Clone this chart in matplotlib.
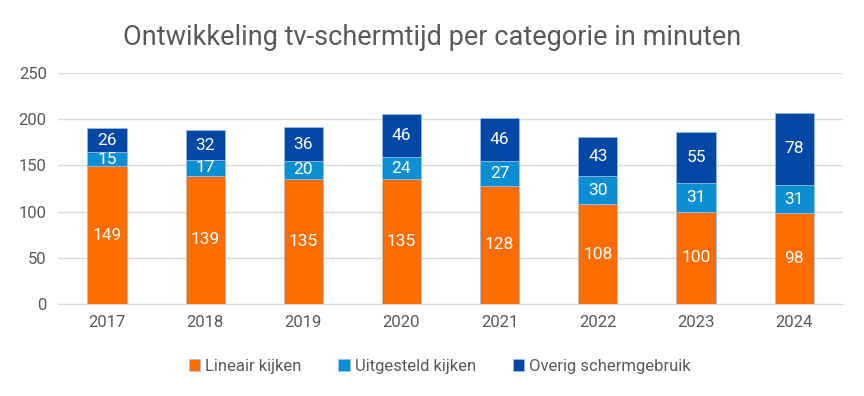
import matplotlib.pyplot as plt
import numpy as np

years = ["2017", "2018", "2019", "2020", "2021", "2022", "2023", "2024"]
lineair = [149, 139, 135, 135, 128, 108, 100, 98]
uitgesteld = [15, 17, 20, 24, 27, 30, 31, 31]
overig = [26, 32, 36, 46, 46, 43, 55, 78]

series = [
    ("Lineair kijken", lineair, "#FF6D00"),
    ("Uitgesteld kijken", uitgesteld, "#0B8FD2"),
    ("Overig schermgebruik", overig, "#0047A6"),
]

plt.rcParams['font.family'] = ['Roboto', 'DejaVu Sans']
grey = "#595959"

fig = plt.figure(figsize=(8.64, 3.96), dpi=100)
ax = fig.add_axes([0.067, 0.232, 0.909, 0.584])

x = np.arange(len(years))
bottom = np.zeros(len(years))
for name, vals, color in series:
    vals = np.array(vals)
    ax.bar(x, vals, 0.4, bottom=bottom, color=color, label=name,
           edgecolor="#9DC3E6", linewidth=0.5, zorder=3)
    for xi, b, v in zip(x, bottom, vals):
        ax.text(xi, b + v / 2, str(v), ha="center", va="center",
                color="white", fontsize=12.5, zorder=4)
    bottom += vals

ax.set_xlim(-0.5, len(years) - 0.5)
ax.set_ylim(0, 250)
ax.set_yticks(range(0, 251, 50))
ax.set_xticks(x)
ax.set_xticklabels(years)
ax.yaxis.grid(True, color="#D9D9D9", linewidth=1, zorder=0)
for s in ["top", "right", "left"]:
    ax.spines[s].set_visible(False)
ax.spines["bottom"].set_color("#D9D9D9")
ax.tick_params(axis="both", length=0, labelsize=12, labelcolor=grey, pad=8)

fig.suptitle("Ontwikkeling tv-schermtijd per categorie in minuten",
             x=0.5, y=0.94, fontsize=19.5, color=grey)

fig.legend(loc="center", bbox_to_anchor=(0.509, 0.075), ncol=3, frameon=False,
           fontsize=12, labelcolor=grey, handlelength=0.7, handleheight=0.7,
           handletextpad=0.3, columnspacing=2.2)

fig.savefig("out.png", dpi=100)
